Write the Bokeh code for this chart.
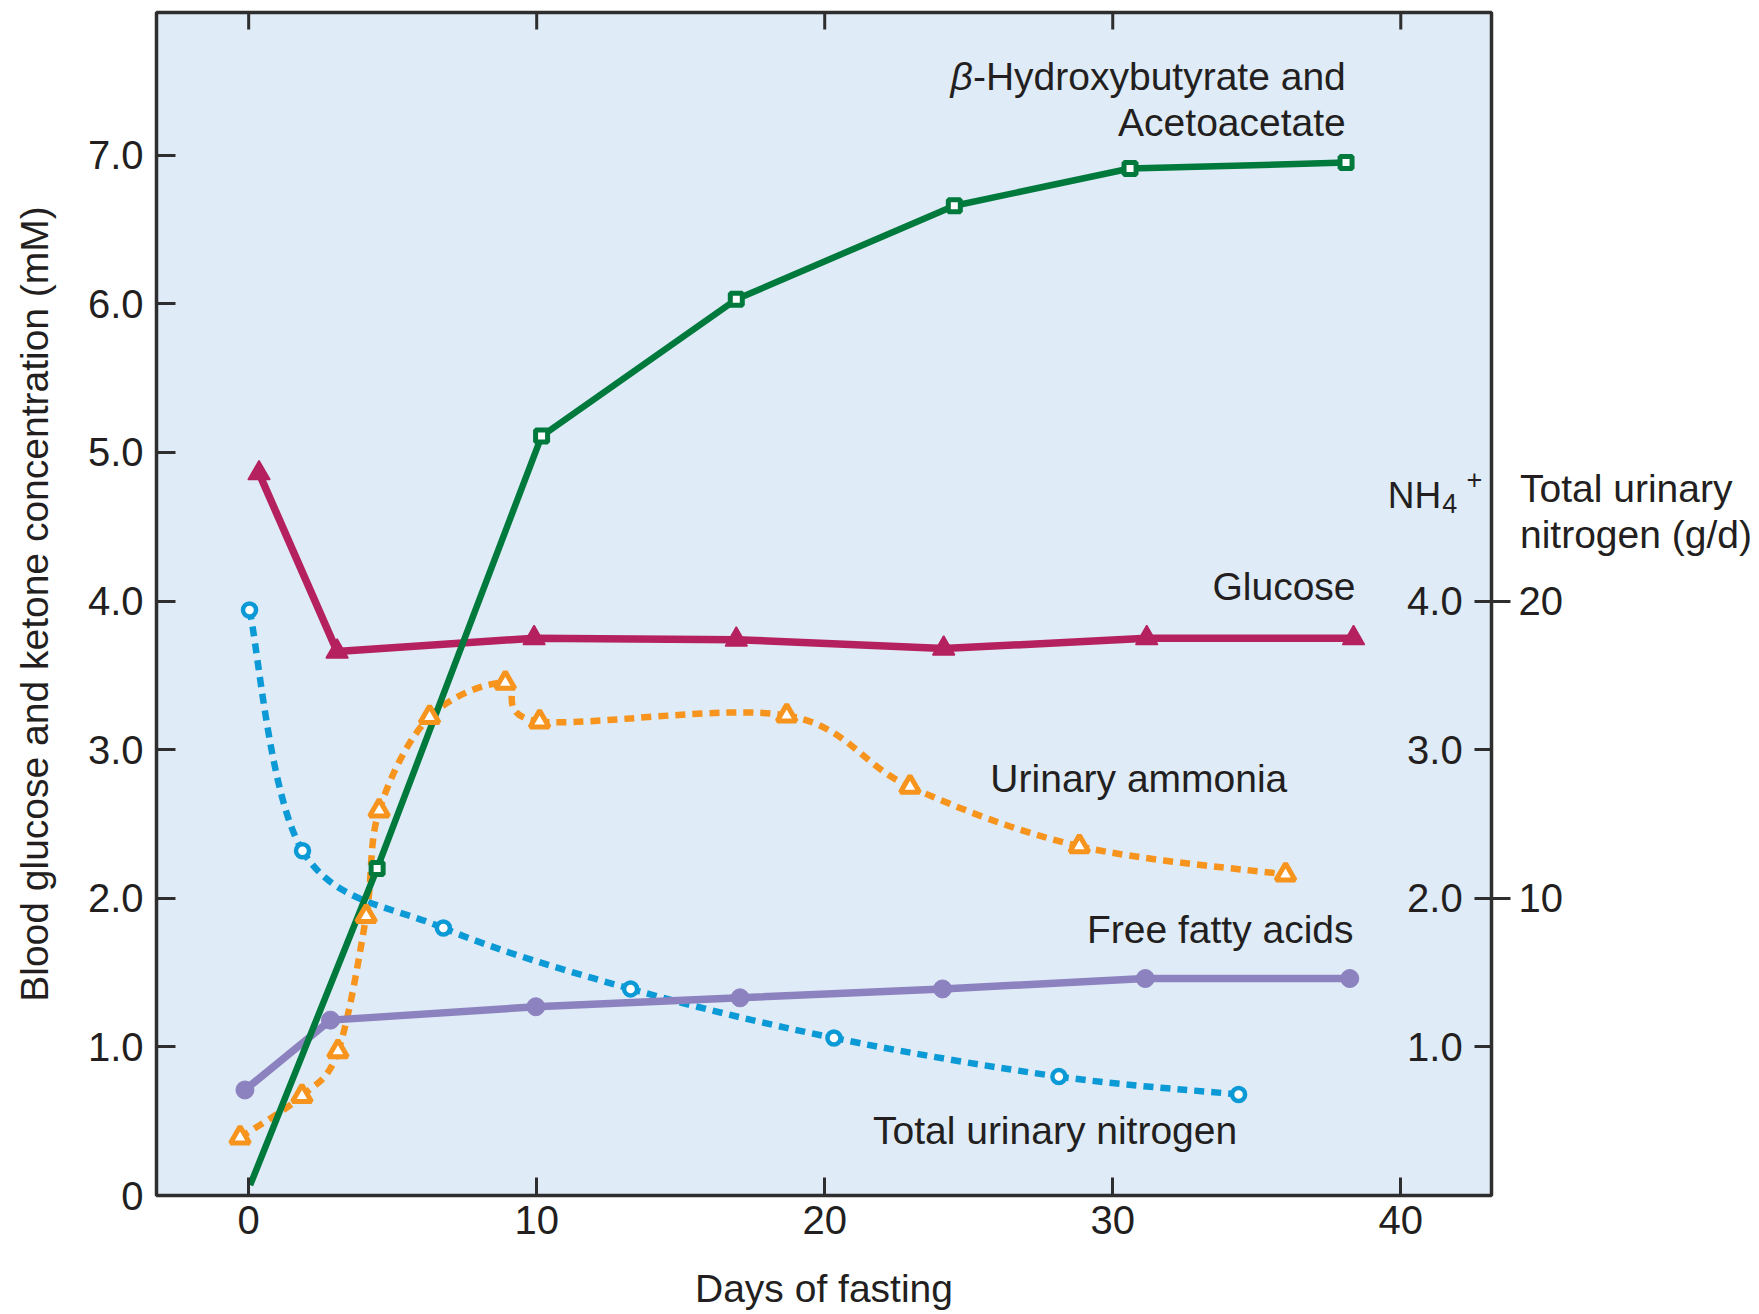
from bokeh.plotting import figure
from bokeh.models import Range1d, LinearAxis, FixedTicker, Label
from bokeh.embed import file_html
from bokeh.resources import INLINE
from bokeh.core.properties import value

# ---------------- data ----------------
ketone_days = [0.05, 4.46, 10.17, 16.93, 24.5, 30.6, 38.1]
ketone_mM = [0.07, 2.2, 5.11, 6.03, 6.66, 6.91, 6.95]

glucose_days = [0.36, 3.07, 9.91, 16.93, 24.13, 31.18, 38.36]
glucose_mM = [4.86, 3.66, 3.75, 3.74, 3.68, 3.75, 3.75]

ammonia_days = [-0.3, 1.85, 3.1, 4.08, 4.53, 6.28, 8.91, 10.1, 18.68, 22.96, 28.84, 36.0]
ammonia_nh4 = [0.39, 0.67, 0.97, 1.88, 2.59, 3.22, 3.45, 3.19, 3.23, 2.75, 2.35, 2.16]

nitrogen_days = [0.03, 1.87, 6.76, 13.26, 20.32, 28.13, 34.37]
nitrogen_gd = [19.7, 11.6, 9.0, 6.95, 5.3, 4.0, 3.4]

ffa_days = [-0.13, 2.84, 9.97, 17.06, 24.09, 31.13, 38.23]
ffa_mM = [0.71, 1.18, 1.27, 1.33, 1.39, 1.46, 1.46]

x_ticks = [0, 10, 20, 30, 40]
y_ticks = [0, 1, 2, 3, 4, 5, 6, 7]
y_tick_labels = ["0", "1.0", "2.0", "3.0", "4.0", "5.0", "6.0", "7.0"]
nh4_ticks = [1, 2, 3, 4]
nh4_tick_labels = ["1.0", "2.0", "3.0", "4.0"]
n_major_ticks = [10, 20]
n_minor_ticks = [5, 15]

# ---------------- style ----------------
FONT = "Liberation Sans"
TXT = "#231F20"
FRAME = "#2E2E2E"
GREEN = "#007A3C"
CRIMSON = "#B5215E"
ORANGE = "#F7941E"
BLUE = "#0C9AD7"
PURPLE = "#8C82BF"

W, H = 1758, 1312
FL, FR, FT, FB = 156, 1491, 12, 1198   # frame edges in page pixels
X0, X1 = -3.2, 43.15
Y0, Y1 = 0.0, 7.96
N_SCALE = 5.0  # g/d per mM-axis unit
px_y = (Y1 - Y0) / (FB - FT)

p = figure(width=W, height=H,
           x_range=Range1d(X0, X1), y_range=Range1d(Y0, Y1),
           output_backend="svg", toolbar_location=None,
           min_border_left=FL, min_border_right=W - FR,
           min_border_top=FT, min_border_bottom=H - FB)
p.extra_y_ranges = {"n": Range1d(Y0 * N_SCALE, Y1 * N_SCALE)}

p.background_fill_color = "#DFEBF7"
p.border_fill_color = "white"
p.outline_line_color = FRAME
p.outline_line_width = 3.5
p.grid.visible = False

def style_axis(ax, tick_in, tick_out):
    ax.axis_line_color = None
    ax.major_tick_in = tick_in
    ax.major_tick_out = tick_out
    ax.major_tick_line_width = 3
    ax.major_tick_line_color = FRAME
    ax.minor_tick_line_color = None
    ax.major_label_text_font = FONT
    ax.major_label_text_font_size = "40px"
    ax.major_label_text_color = TXT
    ax.axis_label_text_font = FONT
    ax.axis_label_text_font_size = "39px"
    ax.axis_label_text_font_style = "normal"
    ax.axis_label_text_color = TXT

xa = p.xaxis[0]
style_axis(xa, 18, 0)
xa.ticker = FixedTicker(ticks=x_ticks)
xa.major_label_standoff = 10
xa.axis_label = "Days of fasting"
xa.axis_label_standoff = 30

ya = p.yaxis[0]
style_axis(ya, 19, 0)
ya.ticker = FixedTicker(ticks=y_ticks)
ya.major_label_overrides = {t: s for t, s in zip(y_ticks, y_tick_labels)}
ya.major_label_standoff = 13
ya.axis_label = "Blood glucose and ketone concentration (mM)"
ya.axis_label_standoff = 29

right = LinearAxis(y_range_name="n",
                   ticker=FixedTicker(ticks=n_major_ticks, minor_ticks=n_minor_ticks))
style_axis(right, 17, 19)
right.minor_tick_line_color = FRAME
right.minor_tick_line_width = 3
right.minor_tick_in = 17
right.minor_tick_out = 0
right.major_label_standoff = 8
# horizontal title of the right scale, lifted above the middle by trailing empty lines
right.axis_label = "Total urinary\nnitrogen (g/d)\n\n\n\n"
right.axis_label_orientation = "horizontal"
right.axis_label_text_line_height = 1.07
right.axis_label_standoff = -46
p.add_layout(right, "right")

# top-edge tick marks at the x ticks (no labels there)
p.segment(x0=x_ticks, x1=x_ticks, y0=[Y1] * len(x_ticks),
          y1=[Y1 - 17 * px_y] * len(x_ticks), line_color=FRAME, line_width=3)

# ---------------- smooth dotted curves (Catmull-Rom -> Bezier) ----------------
def bezier_parts(xs, ys):
    n = len(xs)
    out = {k: [] for k in ("x0", "y0", "x1", "y1", "cx0", "cy0", "cx1", "cy1")}
    for i in range(n - 1):
        xa_, ya_ = (xs[i - 1], ys[i - 1]) if i > 0 else (xs[i], ys[i])
        xb, yb = (xs[i + 2], ys[i + 2]) if i + 2 < n else (xs[i + 1], ys[i + 1])
        out["x0"].append(xs[i]); out["y0"].append(ys[i])
        out["x1"].append(xs[i + 1]); out["y1"].append(ys[i + 1])
        out["cx0"].append(xs[i] + (xs[i + 1] - xa_) / 6.0)
        out["cy0"].append(ys[i] + (ys[i + 1] - ya_) / 6.0)
        out["cx1"].append(xs[i + 1] - (xb - xs[i]) / 6.0)
        out["cy1"].append(ys[i + 1] - (yb - ys[i]) / 6.0)
    return out

bz = bezier_parts(nitrogen_days, nitrogen_gd)
p.bezier(y_range_name="n", line_color=BLUE, line_width=6.5, line_dash="10 7", **bz)

bz = bezier_parts(ammonia_days, ammonia_nh4)
p.bezier(line_color=ORANGE, line_width=6.5, line_dash="10 7", **bz)

# ---------------- solid series ----------------
p.line(ffa_days, ffa_mM, line_color=PURPLE, line_width=7.5, line_join="round")
p.line(glucose_days, glucose_mM, line_color=CRIMSON, line_width=7.5, line_join="round")
p.line(ketone_days, ketone_mM, line_color=GREEN, line_width=6.5, line_join="round")

# ---------------- markers ----------------
p.scatter(nitrogen_days, nitrogen_gd, y_range_name="n", marker="circle", size=13,
          fill_color="white", line_color=BLUE, line_width=4.5)
p.scatter(ammonia_days, ammonia_nh4, marker="triangle", size=19,
          fill_color="white", line_color=ORANGE, line_width=5)
p.scatter(ffa_days, ffa_mM, marker="circle", size=18,
          fill_color=PURPLE, line_color=PURPLE, line_width=1)
p.scatter(glucose_days, glucose_mM, marker="triangle", size=22,
          fill_color=CRIMSON, line_color=CRIMSON, line_width=1.5)
p.scatter(ketone_days[1:], ketone_mM[1:], marker="square", size=12,
          fill_color="white", line_color=GREEN, line_width=5)

# NH4+ scale labels (inside the frame, next to the right edge)
p.text(x=[42.15] * len(nh4_ticks), y=nh4_ticks, text=nh4_tick_labels,
       text_align="right", text_baseline="middle",
       text_font=value(FONT), text_font_size="40px", text_color=TXT)

# ---------------- text annotations ----------------
DY = 0.08  # baseline correction

def lab(x, y, t, align="right", size="39px", style="normal"):
    p.add_layout(Label(x=x, y=y + DY, text=t, text_align=align, text_baseline="alphabetic",
                       text_font=FONT, text_font_size=size, text_font_style=style,
                       text_color=TXT))

lab(38.09, 7.45, "-Hydroxybutyrate and")
lab(25.14, 7.45, "\u03b2", style="italic")
lab(38.09, 7.14, "Acetoacetate")
lab(38.43, 4.02, "Glucose")
lab(36.06, 2.727, "Urinary ammonia")
lab(38.36, 1.71, "Free fatty acids")
lab(34.32, 0.356, "Total urinary nitrogen")
lab(39.55, 4.63, "NH", align="left", size="37px")
lab(41.44, 4.573, "4", align="left", size="27px")
lab(42.28, 4.74, "+", align="left", size="27px")

open("out.html", "w").write(file_html(p, INLINE))
